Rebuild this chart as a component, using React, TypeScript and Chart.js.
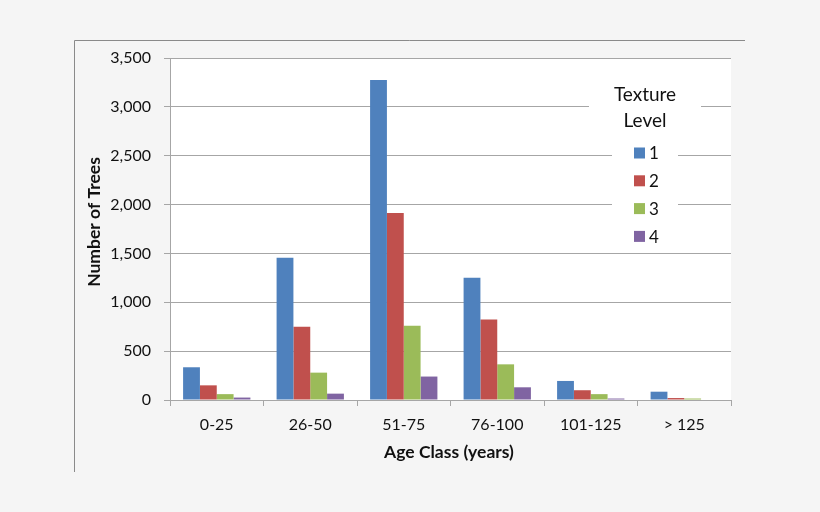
import React, { useEffect, useRef } from 'react';
import { Chart, registerables } from 'chart.js';

Chart.register(...registerables);

const ageClasses = ['0-25', '26-50', '51-75', '76-100', '101-125', '> 125'];
const seriesNames = ['1', '2', '3', '4'];
const level1 = [335, 1455, 3275, 1250, 195, 85];
const level2 = [150, 750, 1915, 825, 100, 20];
const level3 = [60, 280, 760, 365, 60, 15];
const level4 = [25, 65, 240, 130, 15, 5];
const colors = ['#4F81BD', '#C0504D', '#9BBB59', '#8064A2'];

const FONT = 'Lato, "Liberation Sans", sans-serif';
const yTitle = 'Number of Trees';
const xTitle = 'Age Class (years)';

// white plot area + the grey frame lines around the picture
const framePlugin = {
  id: 'frame',
  beforeDraw(chart: any) {
    const { ctx, chartArea } = chart;
    ctx.save();
    ctx.fillStyle = '#ffffff';
    ctx.fillRect(chartArea.left, chartArea.top, chartArea.right - chartArea.left, chartArea.bottom - chartArea.top);
    ctx.strokeStyle = '#8a8a8a';
    ctx.lineWidth = 1;
    ctx.beginPath();
    ctx.moveTo(74.5, 472);
    ctx.lineTo(74.5, 40.5);
    ctx.lineTo(745, 40.5);
    ctx.stroke();
    ctx.restore();
  },
};

// axis titles (Excel puts the y one a bit above the middle)
const titlesPlugin = {
  id: 'axisTitles',
  afterDraw(chart: any) {
    const { ctx } = chart;
    ctx.save();
    ctx.fillStyle = '#111111';
    ctx.font = 'bold 17.5px ' + FONT;
    ctx.textAlign = 'center';
    ctx.textBaseline = 'middle';
    ctx.fillText(xTitle, 449, 452);
    ctx.translate(94, 222);
    ctx.rotate(-Math.PI / 2);
    ctx.fillText(yTitle, 0, 0);
    ctx.restore();
  },
};

// Excel style legend with a two line title, sitting on a white box
const legendPlugin = {
  id: 'texLegend',
  afterDraw(chart: any) {
    const { ctx } = chart;
    ctx.save();
    ctx.fillStyle = '#ffffff';
    ctx.fillRect(589, 80, 112, 52);
    ctx.fillRect(612, 132, 66, 118);
    ctx.fillStyle = '#111111';
    ctx.font = '19px ' + FONT;
    ctx.textAlign = 'center';
    ctx.textBaseline = 'middle';
    ctx.fillText('Texture', 645, 95);
    ctx.fillText('Level', 645, 121);
    ctx.textAlign = 'left';
    ctx.font = '17px ' + FONT;
    chart.data.datasets.forEach((ds: any, i: number) => {
      const y = 153 + i * 27.8;
      ctx.fillStyle = ds.backgroundColor;
      ctx.fillRect(634, y - 5.5, 11, 11);
      ctx.fillStyle = '#111111';
      ctx.fillText(ds.label, 649, y + 1);
    });
    ctx.restore();
  },
};

const App = () => {
  const chartRef = useRef<HTMLCanvasElement>(null);

  useEffect(() => {
    if (!chartRef.current) return;
    const values = [level1, level2, level3, level4];
    const myChart = new Chart(chartRef.current, {
      type: 'bar',
      data: {
        labels: ageClasses,
        datasets: seriesNames.map((name, i) => ({
          label: name,
          data: values[i],
          backgroundColor: colors[i],
          borderWidth: 0,
          categoryPercentage: 0.72,
          barPercentage: 1,
        })),
      },
      options: {
        animation: false,
        responsive: true,
        maintainAspectRatio: false,
        layout: { padding: { top: 58, right: 89, left: 0, bottom: 0 } },
        plugins: {
          legend: { display: false },
          tooltip: { enabled: false },
        },
        scales: {
          x: {
            afterFit: (scale: any) => { scale.height = 112; },
            grid: { drawOnChartArea: false, drawTicks: true, tickLength: 6, color: '#a6a6a6' },
            border: { color: '#a6a6a6' },
            ticks: { color: '#111111', padding: 9, font: { family: FONT, size: 16 } },
          },
          y: {
            min: 0,
            max: 3500,
            afterFit: (scale: any) => { scale.width = 170; },
            grid: { color: '#a6a6a6', tickLength: 6 },
            border: { color: '#a6a6a6' },
            ticks: { stepSize: 500, color: '#111111', padding: 13, font: { family: FONT, size: 16 } },
          },
        },
      },
      plugins: [framePlugin, titlesPlugin, legendPlugin],
    });
    return () => {
      myChart.destroy();
    };
  }, []);

  return (
    <div style={{ position: 'fixed', left: 0, top: 0, width: 820, height: 512, background: '#f5f5f5' }}>
      <canvas ref={chartRef} />
    </div>
  );
};

export default App;
